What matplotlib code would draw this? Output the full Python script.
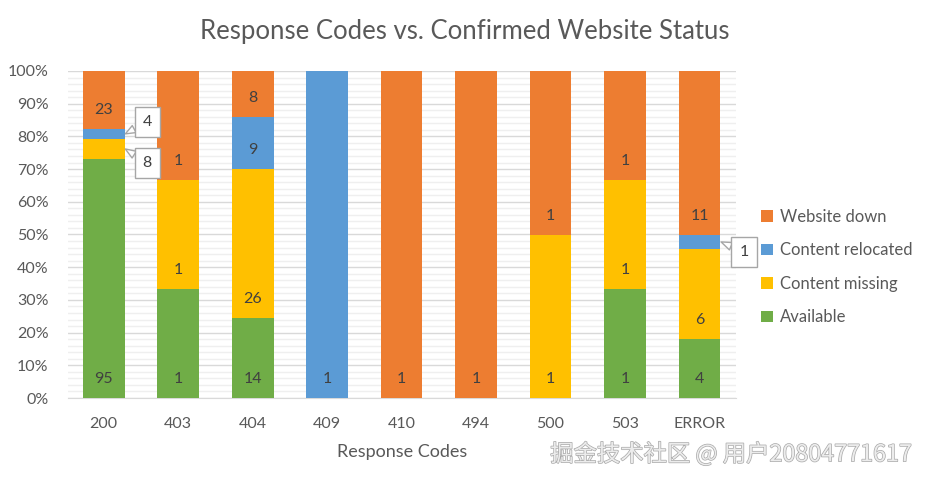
import matplotlib
matplotlib.use("Agg")
import matplotlib.pyplot as plt
import matplotlib.patheffects as pe
import numpy as np
from matplotlib.ticker import MultipleLocator, PercentFormatter

plt.rcParams['font.family'] = ['Lato', 'DejaVu Sans']

codes = ['200', '403', '404', '409', '410', '494', '500', '503', 'ERROR']
series = ['Available', 'Content missing', 'Content relocated', 'Website down']
available = [95, 1, 14, 0, 0, 0, 0, 1, 4]
missing = [8, 1, 26, 0, 0, 0, 1, 1, 6]
relocated = [4, 0, 9, 1, 0, 0, 0, 0, 1]
down = [23, 1, 8, 0, 1, 1, 1, 1, 11]
colors = ['#70AD47', '#FFC000', '#5B9BD5', '#ED7D31']

# labels drawn as callouts instead of inside the bar: (series index, bar index, dx, dy)
callouts = [(2, 0, 22, 12), (1, 0, 22, -14), (2, 8, 23, -10)]

TEXT = '#595959'
LABEL = '#404040'

counts = np.array([available, missing, relocated, down], dtype=float)
shares = counts / counts.sum(axis=0)

fig = plt.figure(figsize=(9.29, 4.83), dpi=100)
ax = fig.add_axes([68 / 929, 1 - 398 / 483, 668 / 929, 327 / 483])

x = np.arange(len(codes))
bottom = np.zeros(len(codes))
callout_keys = {(s, b) for s, b, _, _ in callouts}
for s, name in enumerate(series):
    ax.bar(x, shares[s], 0.56, bottom=bottom, color=colors[s], label=name, zorder=3)
    for i in x:
        if counts[s, i] == 0 or (s, i) in callout_keys:
            continue
        ax.annotate(str(int(counts[s, i])), (i, bottom[i]), xytext=(0, 19),
                    textcoords='offset pixels', ha='center', va='center',
                    fontsize=11.5, color=LABEL, zorder=4)
    bottom += shares[s]

# callout boxes
for s, i, dx, dy in callouts:
    base = shares[:s, i].sum()
    mid = base + shares[s, i] / 2
    ax.annotate(str(int(counts[s, i])), (i + 0.29, mid), xytext=(dx, dy),
                textcoords='offset pixels', ha='center', va='center',
                fontsize=11.5, color=LABEL, zorder=5, annotation_clip=False,
                bbox=dict(boxstyle='square,pad=0.5', fc='white', ec='#a6a6a6', lw=1),
                arrowprops=dict(arrowstyle='wedge,tail_width=0.5', fc='white',
                                ec='#a6a6a6', lw=1, shrinkA=0, shrinkB=0))

ax.set_xlim(-0.48, 8.49)
ax.set_ylim(0, 1)
ax.set_xticks(x, codes)
ax.yaxis.set_major_locator(MultipleLocator(0.1))
ax.yaxis.set_minor_locator(MultipleLocator(0.02))
ax.yaxis.set_major_formatter(PercentFormatter(1.0, decimals=0))
ax.grid(axis='y', which='major', color='#d9d9d9', lw=1, zorder=0)
ax.grid(axis='y', which='minor', color='#efefef', lw=1, zorder=0)
ax.tick_params(axis='both', which='both', length=0, labelsize=11.5, labelcolor=TEXT)
ax.tick_params(axis='y', pad=14)
ax.tick_params(axis='x', pad=14)
for side in ['top', 'right', 'left']:
    ax.spines[side].set_visible(False)
ax.spines['bottom'].set_color('#d9d9d9')
ax.set_xlabel('Response Codes', fontsize=13, color=TEXT, labelpad=9)

fig.suptitle('Response Codes vs. Confirmed Website Status', x=465 / 929, y=1 - 31 / 483,
             va='center', fontsize=18.5, color=TEXT)

handles, labels = ax.get_legend_handles_labels()
fig.legend(handles[::-1], labels[::-1], loc='center left',
           bbox_to_anchor=(746 / 929, 1 - 267 / 483), frameon=False,
           fontsize=12, labelcolor=TEXT, handlelength=0.7, handleheight=0.7,
           handletextpad=0.45, labelspacing=1.05)

fig.text(912 / 929, 1 - 454 / 483, '掘金技术社区 @ 用户20804771617',
         family=['Noto Sans CJK SC', 'DejaVu Sans'], fontsize=16.8, color='#ececec',
         ha='right', va='center',
         path_effects=[pe.withStroke(linewidth=1.0, foreground='#a8a8a8')])

fig.savefig('out.png', dpi=100)
